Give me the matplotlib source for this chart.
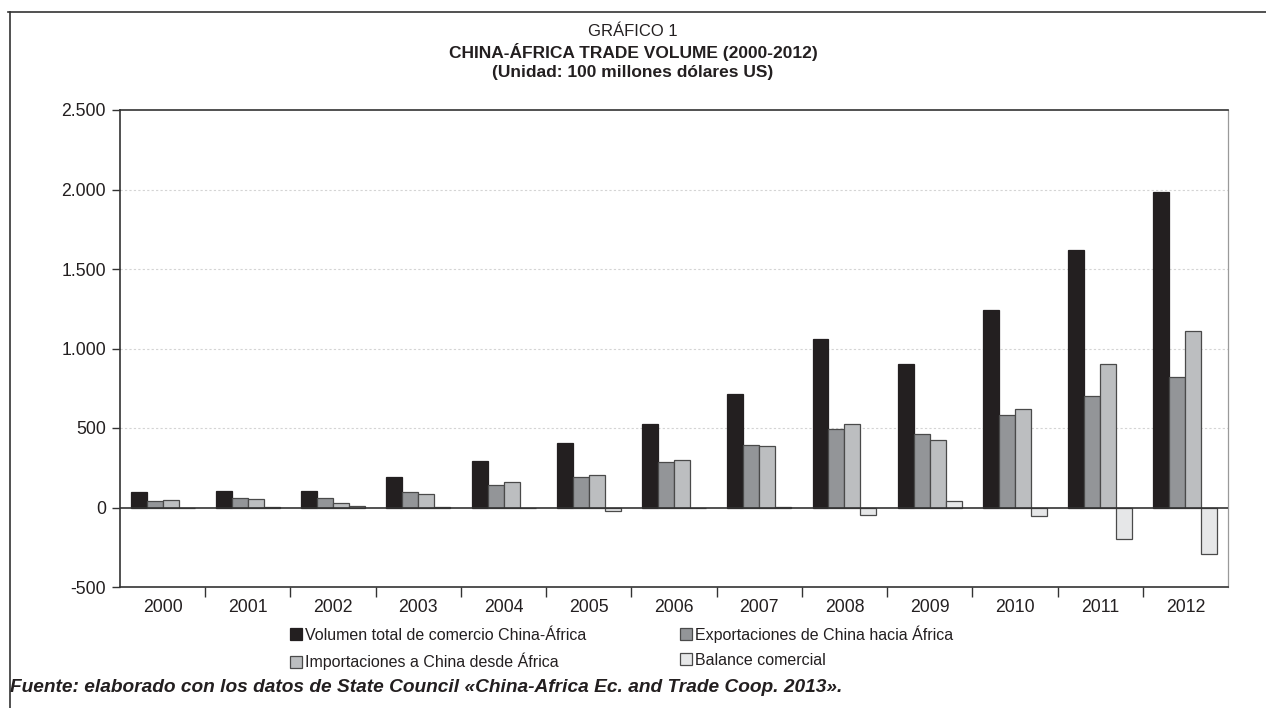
import numpy as np
import matplotlib
matplotlib.use('Agg')
from matplotlib import pyplot as plt
from matplotlib.lines import Line2D
from matplotlib.ticker import FuncFormatter

plt.rcParams['font.family'] = ['Liberation Sans', 'DejaVu Sans']

# China-Africa trade, 100 million USD
years = ['2000', '2001', '2002', '2003', '2004', '2005', '2006',
         '2007', '2008', '2009', '2010', '2011', '2012']
total = [99, 101, 105, 193, 294, 403, 525, 712, 1062, 901, 1245, 1622, 1983]
exports = [40, 57, 59, 97, 143, 189, 286, 393, 494, 464, 582, 701, 821]
imports = [48, 52, 27, 84, 160, 206, 298, 387, 525, 424, 622, 901, 1112]
balance = [-4, 4, 10, 6, -6, -23, -5, 3, -50, 42, -55, -197, -294]

series_names = ['Volumen total de comercio China-África',
                'Exportaciones de China hacia África',
                'Importaciones a China desde África',
                'Balance comercial']
colors = ['#231f20', '#939598', '#bcbec0', '#e6e7e8']
edges = ['#231f20', '#4a4a4a', '#4a4a4a', '#4a4a4a']

W, H = 1266, 708
fig = plt.figure(figsize=(W / 100, H / 100), dpi=100)
ax = fig.add_axes([120 / W, 1 - 587 / H, (1228 - 120) / W, (587 - 110) / H])

x = np.arange(len(years))
bw = 0.1875
bars = []
for i, vals in enumerate([total, exports, imports, balance]):
    b = ax.bar(x + (i - 1.5) * bw, vals, width=bw, color=colors[i],
               edgecolor=edges[i], linewidth=0.9, label=series_names[i], zorder=3)
    bars.append(b)

ax.set_xlim(-0.5, len(years) - 0.5)
ax.set_ylim(-500, 2500)
ax.set_yticks([-500, 0, 500, 1000, 1500, 2000, 2500])
ax.yaxis.set_major_formatter(FuncFormatter(lambda v, p: f'{int(v):,}'.replace(',', '.')))

# year labels in the middle, tick marks on the boundaries
ax.set_xticks(x[:-1] + 0.5)
ax.set_xticklabels([])
ax.set_xticks(x, minor=True)
ax.set_xticklabels(years, minor=True)
ax.tick_params(axis='x', which='major', direction='out', length=7, width=1, color='#333333')
ax.tick_params(axis='x', which='minor', length=0, pad=9, labelsize=12.7, labelcolor='#231f20')
ax.tick_params(axis='y', direction='out', length=6, width=1, color='#333333',
               pad=4, labelsize=12.7, labelcolor='#231f20')

for v in [500, 1000, 1500, 2000]:
    ax.axhline(v, color='#d4d4d4', linewidth=0.8, linestyle=(0, (2, 2)), zorder=1)
ax.axhline(0, color='#333333', linewidth=1.2, zorder=4)

for s in ['left', 'bottom', 'top']:
    ax.spines[s].set_color('#333333')
    ax.spines[s].set_linewidth(1.2)
ax.spines['right'].set_color('#9a9a9a')
ax.spines['right'].set_linewidth(0.9)

# titles
fig.text(633 / W, 1 - 31 / H, 'GRÁFICO 1', ha='center', va='center',
         fontsize=12, color='#231f20')
fig.text(633 / W, 1 - 52 / H, 'CHINA-ÁFRICA TRADE VOLUME (2000-2012)', ha='center',
         va='center', fontsize=12.5, fontweight='bold', color='#231f20')
fig.text(633 / W, 1 - 73 / H, '(Unidad: 100 millones dólares US)', ha='center',
         va='center', fontsize=12.5, fontweight='bold', color='#231f20')

# legend, two columns filled row by row
order = [0, 2, 1, 3]
leg = fig.legend(handles=[bars[k] for k in order], loc='upper left',
                 bbox_to_anchor=(276 / W, 1 - 611 / H),
                 ncol=2, frameon=False, handlelength=0.75, handleheight=0.75,
                 handletextpad=0.15, columnspacing=5.9, labelspacing=0.62,
                 prop={'size': 11.5})
for t in leg.get_texts():
    t.set_color('#231f20')

# source line
fig.text(10 / W, 1 - 688 / H,
         'Fuente: elaborado con los datos de State Council «China-Africa Ec. and Trade Coop. 2013».',
         ha='left', va='center', fontsize=13.8, fontweight='bold', fontstyle='italic',
         color='#231f20')

# outer frame: top and left rules
fig.add_artist(Line2D([8 / W, 1], [1 - 12 / H, 1 - 12 / H], color='#333333', linewidth=1.2))
fig.add_artist(Line2D([10 / W, 10 / W], [1 - 12 / H, 0], color='#333333', linewidth=1.2))

fig.savefig('out.png', dpi=100)
